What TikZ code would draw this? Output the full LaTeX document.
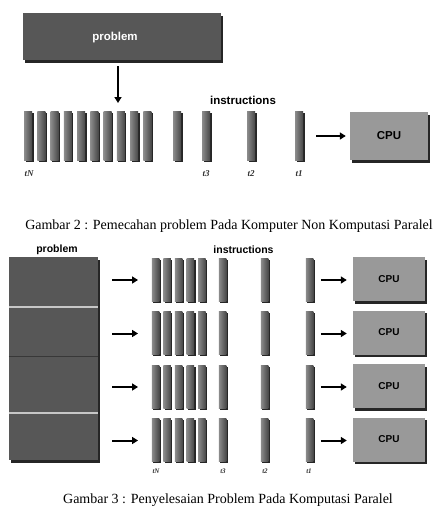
\documentclass[tikz,border=0pt]{standalone}
\usepackage{fontspec}
\setmainfont{Liberation Serif}
\setsansfont{Liberation Sans}
\usetikzlibrary{shadows,arrows.meta}
\begin{document}
\begin{tikzpicture}[x=1pt,y=-1pt,
  darkbox/.style={fill=black!66, inner sep=0pt,
    general shadow={fill=black!85, shadow xshift=2pt, shadow yshift=-2.5pt}},
  cpubox/.style={fill=black!40, inner sep=0pt,
    general shadow={fill=black!85, shadow xshift=2pt, shadow yshift=-2.5pt}},
  barbox/.style={left color=black!45, right color=black!72, inner sep=0pt,
    general shadow={fill=black!85, shadow xshift=1.5pt, shadow yshift=-1.5pt}},
  arr/.style={line width=2pt, -{Triangle[length=6pt,width=7pt]}},
  bigsans/.style={font=\sffamily\bfseries\fontsize{11.5}{12}\selectfont},
  smallsans/.style={font=\sffamily\bfseries\fontsize{10.5}{11}\selectfont},
  tlab/.style={font=\bfseries\itshape\fontsize{9}{10}\selectfont, inner sep=0pt, text=black!80},
  tlabs/.style={font=\bfseries\itshape\fontsize{7}{8}\selectfont, inner sep=0pt, text=black!80},
  captext/.style={font=\fontsize{14}{16}\selectfont, inner sep=0pt}
]
\fill[white] (0,0) rectangle (440,512);
\useasboundingbox (0,0) rectangle (440,512);

% ---------- Diagram 1 ----------
\node[darkbox, minimum width=198pt, minimum height=47pt] (prob1) at (122,36.5) {};
\node[bigsans, text=white] (prob1t) at (115,38) {problem};
\node[bigsans] (instr1) at (243,100) {instructions};

\foreach \k in {0,...,9} {
  \pgfmathsetmacro{\cx}{28+13.25*\k}
  \node[barbox, minimum width=8pt, minimum height=49pt] (a\k) at (\cx,136) {};
}
\node[barbox, minimum width=8pt, minimum height=49pt] (s4) at (177,136) {};
\node[barbox, minimum width=8pt, minimum height=49pt] (s3) at (206,136) {};
\node[barbox, minimum width=8pt, minimum height=49pt] (s2) at (251,136) {};
\node[barbox, minimum width=8pt, minimum height=49pt] (s1) at (299,136) {};

\node[tlab] (l1N) at (29,174) {tN};
\node[tlab] (l13) at (206,174) {t3};
\node[tlab] (l12) at (251,174) {t2};
\node[tlab] (l11) at (299,174) {t1};

\node[cpubox, minimum width=78pt, minimum height=48pt] (cpu1) at (389,136) {};
\node[bigsans] (cpu1t) at (389,136) {CPU};

\coordinate (down1) at (118,103);
\draw[arr, shorten <=6pt] (prob1.south -| down1) -- (down1);
\draw[arr, shorten <=13pt, shorten >=4pt] (s1) -- (cpu1);

\node[captext] (cap2) at (229,226) {Gambar 2 : Pemecahan problem Pada Komputer Non Komputasi Paralel};

% ---------- Diagram 2 ----------
\node[smallsans] (prob2t) at (57,250) {problem};
\node[smallsans] (instr2) at (243.5,250) {instructions};

\node[darkbox, minimum width=89pt, minimum height=203pt] (prob2) at (53.5,358.5) {};
\draw[black!22, line width=1.6pt] ([yshift=-50pt]prob2.north west) -- ([yshift=-50pt]prob2.north east);
\draw[black!78, line width=0.8pt] ([yshift=-100pt]prob2.north west) -- ([yshift=-100pt]prob2.north east);
\draw[black!22, line width=1.6pt] ([yshift=-156pt]prob2.north west) -- ([yshift=-156pt]prob2.north east);

\foreach \i in {0,...,3} {
  \pgfmathsetmacro{\top}{257+53.5*\i}
  \pgfmathsetmacro{\cy}{\top+22.5}
  \pgfmathsetmacro{\ay}{\top+23}
  \foreach \k in {0,...,4} {
    \pgfmathsetmacro{\cx}{155.5+11.6*\k}
    \node[barbox, minimum width=7.5pt, minimum height=43pt] (b\i\k) at (\cx,\cy) {};
  }
  \node[barbox, minimum width=7.5pt, minimum height=43pt] (b\i5) at (222.5,\cy) {};
  \node[barbox, minimum width=7.5pt, minimum height=43pt] (b\i6) at (264.5,\cy) {};
  \node[barbox, minimum width=7.5pt, minimum height=43pt] (b\i7) at (309.5,\cy) {};
  \node[cpubox, minimum width=72pt, minimum height=44pt] (c\i) at (389,\top+22) {};
  \node[font=\sffamily\bfseries\fontsize{10}{11}\selectfont] (ct\i) at (389,\top+22) {CPU};
  \coordinate (la\i) at (112,\ay);
  \draw[arr, shorten >=13.5pt] (la\i) -- (la\i -| b\i0.west);
  \draw[arr, shorten <=7.5pt, shorten >=6pt] (b\i7.east |- la\i) -- (la\i -| c\i.west);
}

\node[tlabs] (l2N) at (156,471) {tN};
\node[tlabs] (l23) at (223,471) {t3};
\node[tlabs] (l22) at (265,471) {t2};
\node[tlabs] (l21) at (309,471) {t1};

\node[captext] (cap3) at (228,500) {Gambar 3 : Penyelesaian Problem Pada Komputasi Paralel};
\end{tikzpicture}
\end{document}
